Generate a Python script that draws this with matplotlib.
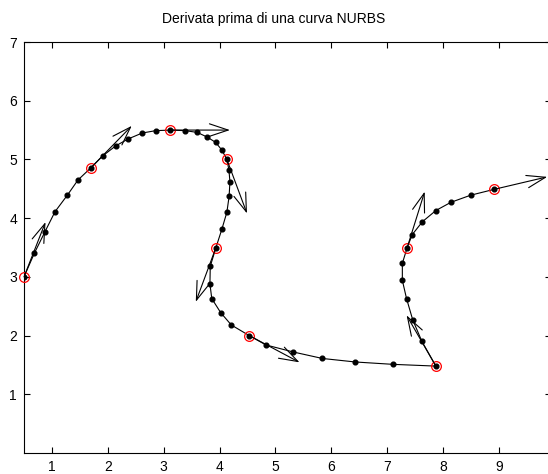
import matplotlib
matplotlib.use("Agg")
import matplotlib.pyplot as plt

plt.rcParams['font.family'] = ['Liberation Sans', 'DejaVu Sans']

title = "Derivata prima di una curva NURBS"

# Points sampled along the NURBS curve (every 6th point is a highlighted knot point)
curve_x = [0.50, 0.684, 0.876, 1.055, 1.275, 1.466, 1.70,
           1.908, 2.140, 2.366, 2.616, 2.856, 3.12,
           3.386, 3.60, 3.78, 3.93, 4.04, 4.13,
           4.167, 4.185, 4.17, 4.13, 4.04, 3.935,
           3.833, 3.827, 3.86, 4.02, 4.21, 4.53,
           4.83, 5.32, 5.84, 6.43, 7.10, 7.87,
           7.62, 7.455, 7.345, 7.27, 7.27, 7.357,
           7.447, 7.63, 7.87, 8.14, 8.49, 8.91]
curve_y = [3.00, 3.40, 3.77, 4.11, 4.39, 4.65, 4.86,
           5.06, 5.23, 5.35, 5.45, 5.49, 5.50,
           5.49, 5.46, 5.38, 5.29, 5.16, 5.00,
           4.82, 4.62, 4.37, 4.10, 3.81, 3.50,
           3.18, 2.88, 2.63, 2.39, 2.18, 2.00,
           1.84, 1.72, 1.61, 1.55, 1.51, 1.48,
           1.90, 2.27, 2.63, 2.94, 3.23, 3.50,
           3.72, 3.94, 4.13, 4.27, 4.39, 4.49]

# Highlighted points (red circles) and first derivative (normalised) at each
knot_x = curve_x[::6]
knot_y = curve_y[::6]
deriv_u = [0.385, 0.728, 1.065, 0.36, -0.361, 0.90, -0.524, 0.313, 0.952]
deriv_v = [0.933, 0.712, 0.0, -0.92, -0.925, -0.456, 0.865, 0.952, 0.213]

x_ticks = [1, 2, 3, 4, 5, 6, 7, 8, 9]
y_ticks = [1, 2, 3, 4, 5, 6, 7]

W, H = 548, 474
fig = plt.figure(figsize=(W / 100, H / 100), dpi=100)
ax = fig.add_axes([24 / W, 21 / H, 527 / W, 411 / H])
ax.set_xlim(0.5, 9.93)
ax.set_ylim(0, 7)

ax.plot(curve_x, curve_y, color='black', lw=0.8, zorder=2)
ax.plot(curve_x, curve_y, 'o', color='black', ms=3.4, zorder=3)
ax.plot(knot_x, knot_y, 'o', mfc='none', mec='red', ms=7, mew=0.9, zorder=4,
        clip_on=False)

for x0, y0, u, v in zip(knot_x, knot_y, deriv_u, deriv_v):
    ax.annotate('', xy=(x0 + u, y0 + v), xytext=(x0, y0),
                arrowprops=dict(arrowstyle='->,head_length=1.35,head_width=0.45',
                                mutation_scale=10, color='black', lw=0.8,
                                shrinkA=0, shrinkB=0),
                zorder=5, annotation_clip=False)

ax.set_xticks(x_ticks)
ax.set_yticks(y_ticks)
ax.tick_params(direction='in', length=4.3, width=0.8, top=True, right=True,
               labelsize=10, pad=5, colors='black')
for s in ax.spines.values():
    s.set_linewidth(0.8)

fig.text(273.5 / W, 1 - 19 / H, title, ha='center', va='center', fontsize=10)

fig.savefig('out.png', dpi=100)
